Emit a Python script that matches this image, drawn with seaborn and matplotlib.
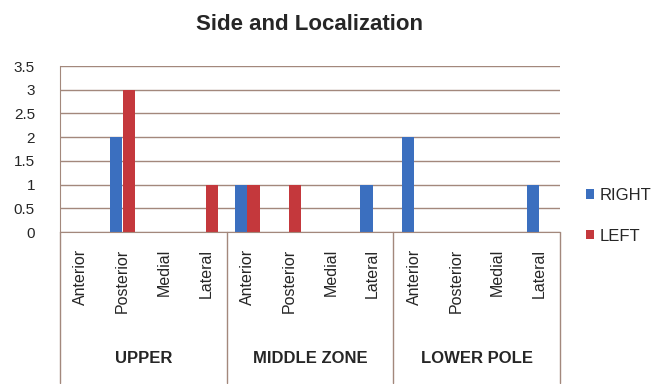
import pandas as pd
import matplotlib
matplotlib.use('Agg')
import matplotlib.pyplot as plt
import seaborn as sns

zones = ['UPPER', 'MIDDLE ZONE', 'LOWER POLE']
positions = ['Anterior', 'Posterior', 'Medial', 'Lateral']
right = [0, 2, 0, 0, 1, 0, 0, 1, 2, 0, 0, 1]
left = [0, 3, 0, 1, 1, 1, 0, 0, 0, 0, 0, 0]

BLUE = '#3b6fbf'
RED = '#c4383c'
GRID = '#a3887c'


def build_frame():
    rows = []
    for i in range(len(right)):
        zone = zones[i // len(positions)]
        pos = positions[i % len(positions)]
        rows.append({'slot': i, 'zone': zone, 'pos': pos, 'side': 'RIGHT', 'value': right[i]})
        rows.append({'slot': i, 'zone': zone, 'pos': pos, 'side': 'LEFT', 'value': left[i]})
    return pd.DataFrame(rows)


def main():
    sns.set_style('white')
    plt.rcParams['font.family'] = ['Liberation Sans', 'DejaVu Sans']
    df = build_frame()

    fig = plt.figure(figsize=(6.59, 3.84), dpi=100)
    ax = fig.add_axes([60 / 659, 1 - 232 / 384, 500 / 659, 166 / 384])

    sns.barplot(
        data=df, x='slot', y='value', hue='side',
        palette={'RIGHT': BLUE, 'LEFT': RED}, saturation=1,
        width=0.58, ax=ax, legend=True, linewidth=0, edgecolor='none',
    )

    ax.set_ylim(0, 3.5)
    ax.set_xlim(-0.5, len(right) - 0.5)
    ax.set_yticks([0, 0.5, 1, 1.5, 2, 2.5, 3, 3.5])
    ax.set_yticklabels(['0', '0.5', '1', '1.5', '2', '2.5', '3', '3.5'], fontsize=11)
    ax.yaxis.grid(True, color=GRID, linewidth=1)
    ax.set_axisbelow(True)
    ax.tick_params(axis='y', length=0, pad=18)
    ax.set_xlabel('')
    ax.set_ylabel('')
    ax.set_xticks([])
    for s in ['top', 'right']:
        ax.spines[s].set_visible(False)
    ax.spines['left'].set_color(GRID)
    ax.spines['bottom'].set_color(GRID)

    # category labels under the axis
    trans = ax.get_xaxis_transform()
    for i in range(len(right)):
        ax.text(i, -0.1, positions[i % len(positions)], rotation=90,
                ha='center', va='top', fontsize=11.5, transform=trans)
    for g, zone in enumerate(zones):
        ax.text(g * 4 + 1.5, -0.76, zone, ha='center', va='center',
                fontsize=12, fontweight='bold', transform=trans)
    for xs in [-0.5, 3.5, 7.5, 11.5]:
        ax.plot([xs, xs], [0, -0.91], color=GRID, linewidth=1,
                transform=trans, clip_on=False)

    ax.legend(loc='center left', bbox_to_anchor=(1.035, 0.098),
              frameon=False, fontsize=12, handlelength=0.5, borderpad=0,
              handleheight=0.5, handletextpad=0.3, labelspacing=1.55)

    fig.text(0.47, 0.9375, 'Side and Localization', ha='center', va='center',
             fontsize=16, fontweight='bold')

    fig.savefig('out.png', dpi=100)
    plt.close(fig)


if __name__ == '__main__':
    main()
